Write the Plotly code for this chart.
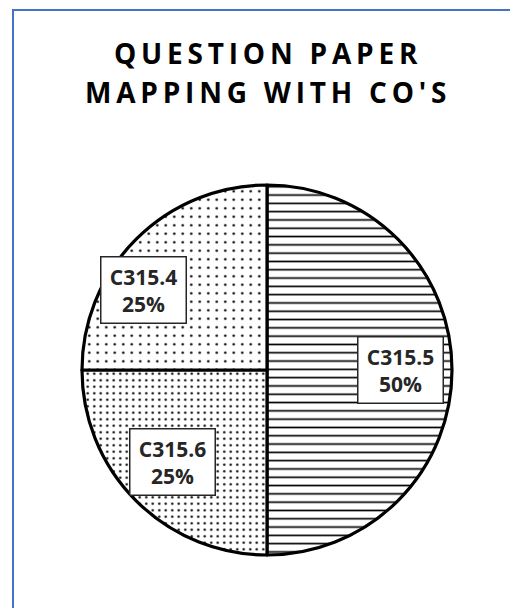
import math
import plotly.graph_objects as go

# ---- data ----
labels = ["C315.5", "C315.6", "C315.4"]
values = [50, 25, 25]
title_lines = ["QUESTION PAPER", "MAPPING WITH CO'S"]

# ---- style ----
patterns = ["-", ".", "."]
pattern_sizes = [8.3, 6.5, 8.5]
pattern_solidity = [0.2, 0.11, 0.07]
label_radius = 0.72
label_nudge = [(0, 0), (0, -2), (-29, 14)]  # pixel shifts (x right, y down)

W, H = 510, 608
L, R, T, B = 82, 58, 185, 53
pw, ph = W - L - R, H - T - B

fig = go.Figure(go.Pie(
    labels=labels,
    values=values,
    sort=False,
    direction="clockwise",
    rotation=0,
    textinfo="none",
    hoverinfo="label+percent",
    showlegend=False,
    marker=dict(
        colors=["white"] * len(values),
        line=dict(color="black", width=3.2),
        pattern=dict(shape=patterns, size=pattern_sizes,
                     solidity=pattern_solidity, fgcolor="black",
                     bgcolor="white", fillmode="replace"),
    ),
    domain=dict(x=[0, 1], y=[0, 1]),
))

# label boxes placed at each slice's mid-angle
total = sum(values)
cum = 0
annotations = []
for i, (lab, v) in enumerate(zip(labels, values)):
    mid = (cum + v / 2) / total * 2 * math.pi
    cum += v
    x = 0.5 + 0.5 * label_radius * math.sin(mid)
    y = 0.5 + 0.5 * label_radius * math.cos(mid)
    pct = round(v / total * 100)
    annotations.append(dict(
        x=x, y=y, xref="paper", yref="paper",
        xanchor="center", yanchor="middle",
        text=f"<b>{lab}<br>{pct}%</b>",
        showarrow=False,
        font=dict(family="Open Sans, Liberation Sans, sans-serif", size=21, color="#262626"),
        bgcolor="white", bordercolor="#262626", borderwidth=1.5,
        borderpad=5, width=74, align="center",
        xshift=label_nudge[i][0], yshift=-label_nudge[i][1],
    ))

# title, one annotation per line
title_y_px = [53, 92]
for line, ypx in zip(title_lines, title_y_px):
    annotations.append(dict(
        x=(268 - L) / pw, y=1 + (T - ypx) / ph,
        xref="paper", yref="paper", showarrow=False,
        text=f"<b><span style='letter-spacing:4.8px'>{line}</span></b>",
        font=dict(family="Open Sans, sans-serif", size=28, color="black"),
        align="center", yanchor="middle", xanchor="center",
    ))

fig.update_layout(
    width=W, height=H,
    margin=dict(l=L, r=R, t=T, b=B),
    paper_bgcolor="white", plot_bgcolor="white",
    annotations=annotations,
    shapes=[dict(
        type="rect", xref="paper", yref="paper",
        x0=(13 - L) / pw, x1=(W + 20 - L) / pw,
        y0=1 - (H + 20 - T) / ph, y1=1 - (10 - T) / ph,
        line=dict(color="#4472C4", width=2), fillcolor="rgba(0,0,0,0)",
        layer="below",
    )],
)

fig.write_html("out.html")
